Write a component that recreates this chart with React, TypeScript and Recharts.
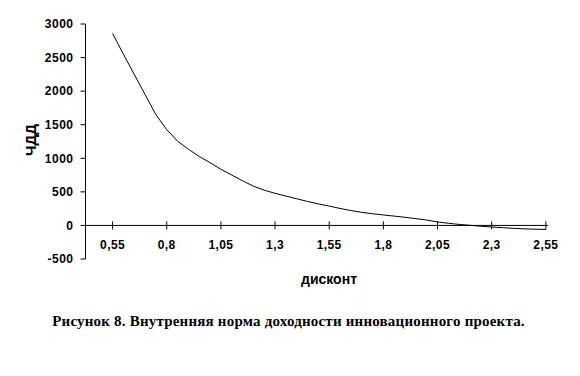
import React from 'react';
import { LineChart, Line, XAxis, YAxis, ReferenceLine, ReferenceDot } from 'recharts';

const discount = [0.55, 0.6, 0.65, 0.7, 0.75, 0.8, 0.85, 0.9, 0.95, 1.0, 1.05, 1.1, 1.15, 1.2, 1.25, 1.3, 1.35, 1.4, 1.45, 1.5, 1.55, 1.6, 1.65, 1.7, 1.75, 1.8, 1.85, 1.9, 1.95, 2.0, 2.05, 2.1, 2.15, 2.2, 2.25, 2.3, 2.35, 2.4, 2.45, 2.5, 2.55];
const npv = [2860, 2550, 2250, 1950, 1650, 1427, 1255, 1135, 1027, 935, 836, 751, 665, 585, 525, 478, 437, 397, 357, 320, 288, 253, 222, 195, 174, 156, 139, 121, 101, 80, 52, 32, 15, 2, -12, -24, -33, -43, -51, -56, -60];
const xTicks = [0.55, 0.8, 1.05, 1.3, 1.55, 1.8, 2.05, 2.3, 2.55];
const yTicks = [-500, 0, 500, 1000, 1500, 2000, 2500, 3000];
const xTitle = 'дисконт';
const yTitle = 'ЧДД';
const caption = 'Рисунок 8. Внутренняя норма доходности инновационного проекта.';

const data = discount.map((d, i) => ({ d, v: npv[i] }));
const fmt = (n: number) => String(n).replace('.', ',');
const AX = 'Arial, "Liberation Sans", sans-serif';

const XTickMark = (props: any) => {
  const { cx, cy, label } = props;
  return (
    <g>
      <line x1={cx} y1={cy - 4} x2={cx} y2={cy + 4} stroke="#000" strokeWidth={1} />
      <text x={cx} y={cy + 20} textAnchor="middle" dominantBaseline="central" fontFamily={AX} fontWeight="bold" fontSize={12} letterSpacing={0.4} fill="#000">
        {label}
      </text>
    </g>
  );
};

export default function App() {
  return (
    <div style={{ position: 'absolute', left: 0, top: 0, width: 580, height: 376, background: '#fff' }}>
      <LineChart width={580} height={376} data={data} margin={{ top: 24, right: 32, bottom: 117, left: 0 }}>
        <XAxis dataKey="d" type="number" domain={[0.425, 2.56]} hide />
        <YAxis
          type="number"
          domain={[-500, 3000]}
          ticks={yTicks}
          width={85.5}
          axisLine={{ stroke: '#000' }}
          tickLine={{ stroke: '#000' }}
          tickSize={5}
          tickMargin={7}
          interval={0}
          tick={{ fill: '#000', fontFamily: AX, fontWeight: 'bold', fontSize: 12, letterSpacing: 0.5 }}
          label={{
            content: () => (
              <text x={30} y={140} transform="rotate(-90 30 140)" textAnchor="middle" dominantBaseline="central" fontFamily={AX} fontWeight="bold" fontSize={15} fill="#000">
                {yTitle}
              </text>
            ),
          }}
        />
        <ReferenceLine y={0} stroke="#000" strokeWidth={1} />
        {xTicks.map((t) => (
          <ReferenceDot key={t} x={t} y={0} r={0} shape={(p: any) => <XTickMark {...p} label={fmt(t)} />} />
        ))}
        <Line type="linear" dataKey="v" stroke="#000" strokeWidth={1} dot={false} isAnimationActive={false} />
      </LineChart>
      <div style={{ position: 'absolute', left: 229, top: 271, width: 200, textAlign: 'center', fontFamily: AX, fontWeight: 'bold', fontSize: 14, color: '#000' }}>
        {xTitle}
      </div>
      <div style={{ position: 'absolute', left: 0, top: 313, width: 577, textAlign: 'center', fontFamily: '"Times New Roman", "Liberation Serif", serif', fontWeight: 'bold', fontSize: 15, letterSpacing: 0.2, color: '#000' }}>
        {caption}
      </div>
    </div>
  );
}
